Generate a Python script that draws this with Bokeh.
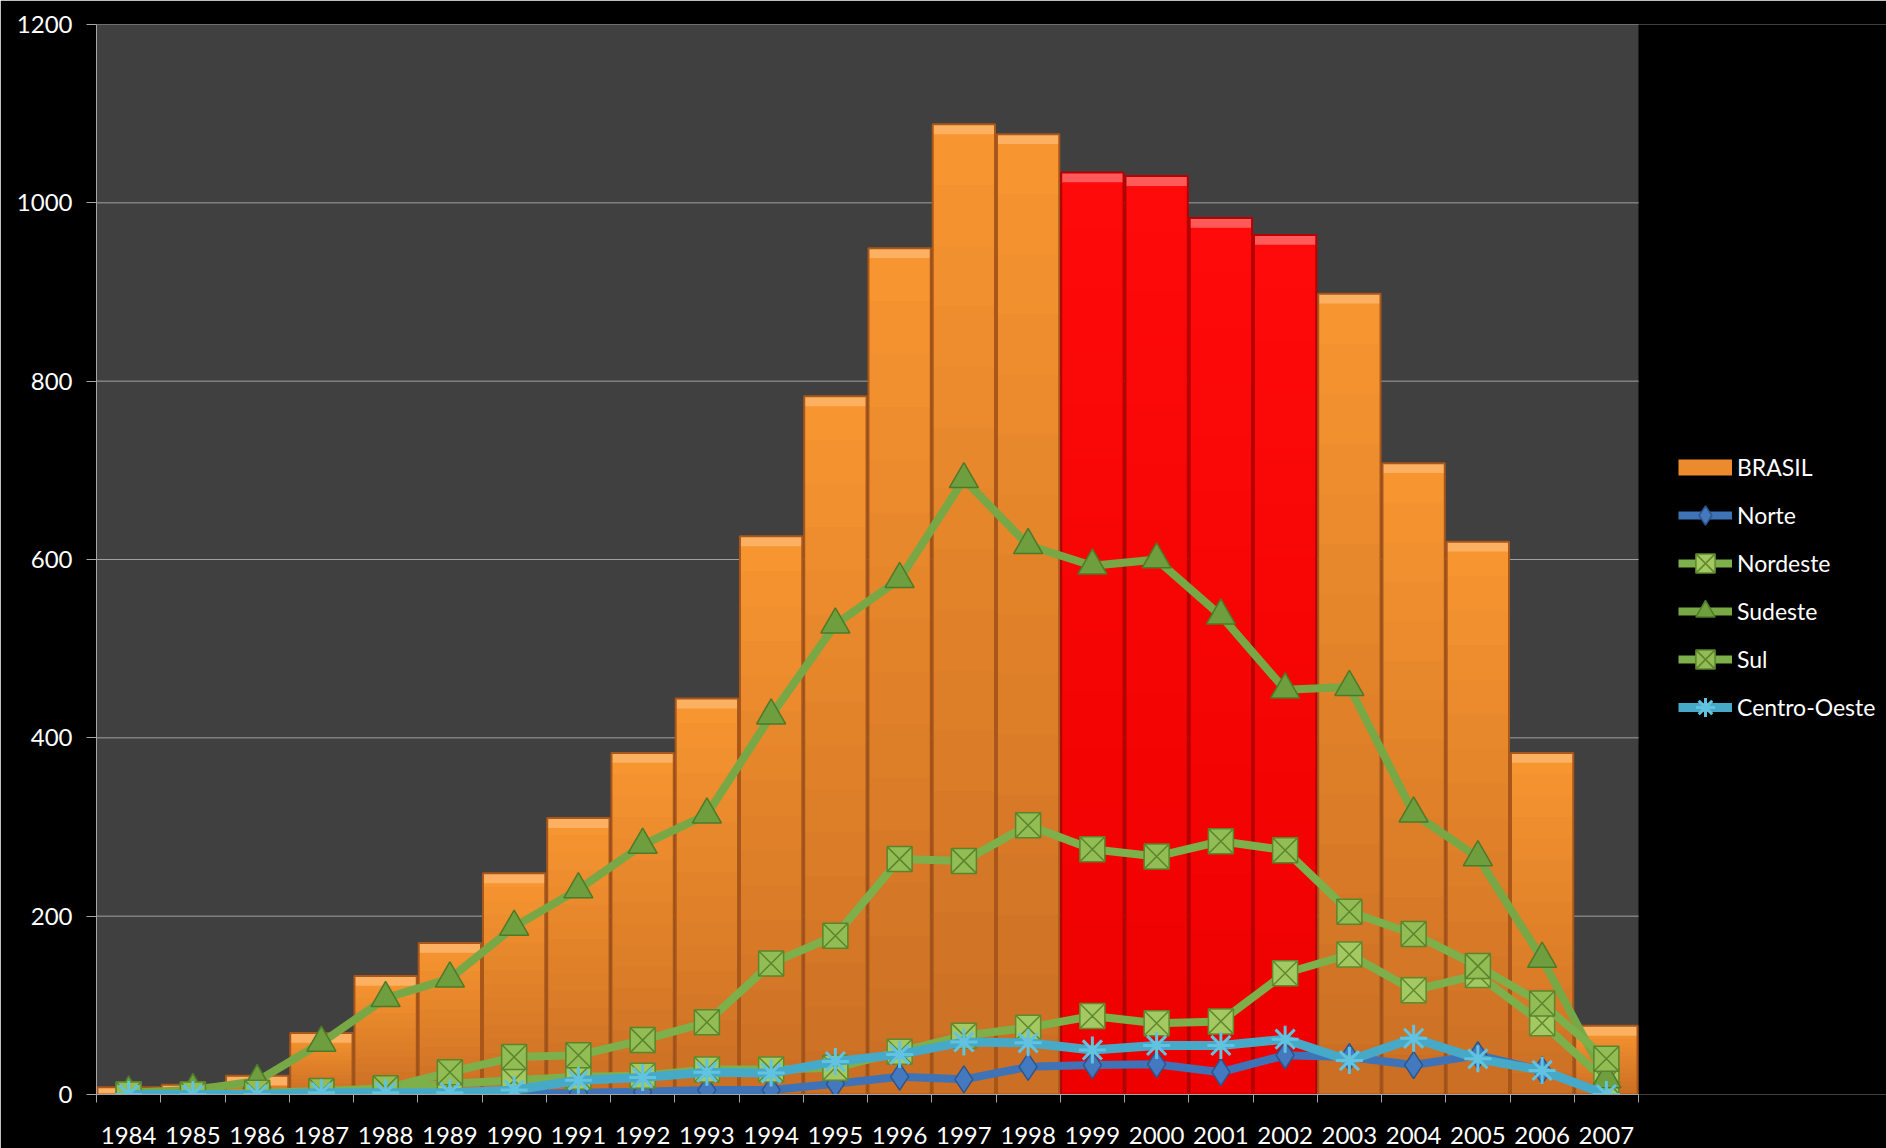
from bokeh.plotting import figure
from bokeh.models import (Range1d, FixedTicker, Legend, LegendItem,
                          ColumnDataSource, BoxAnnotation)
from bokeh.embed import file_html
from bokeh.resources import INLINE

# ---- data -------------------------------------------------------------
years = ["1984", "1985", "1986", "1987", "1988", "1989", "1990", "1991",
         "1992", "1993", "1994", "1995", "1996", "1997", "1998", "1999",
         "2000", "2001", "2002", "2003", "2004", "2005", "2006", "2007"]
highlight = ["1999", "2000", "2001", "2002"]

brasil = [8, 11, 21, 69, 133, 170, 248, 310, 383, 444, 626, 783,
          949, 1088, 1077, 1034, 1030, 983, 964, 898, 708, 620, 383, 77]
norte = [0, 0, 0, 0, 0, 0, 0, 2, 3, 5, 5, 12,
         20, 17, 31, 33, 34, 25, 44, 42, 33, 44, 27, 0]
nordeste = [0, 0, 0, 3, 6, 12, 16, 20, 21, 28, 28, 30,
            48, 66, 75, 88, 80, 82, 136, 157, 117, 134, 80, 15]
sudeste = [2, 5, 15, 58, 108, 130, 188, 230, 280, 314, 425, 527,
           578, 690, 616, 593, 600, 537, 454, 457, 315, 266, 152, 17]
sul = [0, 0, 2, 4, 7, 25, 42, 44, 61, 81, 147, 178,
       264, 262, 302, 275, 267, 284, 274, 205, 180, 144, 102, 40]
centro_oeste = [0, 0, 0, 2, 2, 2, 5, 16, 19, 25, 24, 37,
                45, 59, 58, 50, 55, 55, 62, 38, 63, 40, 27, 0]

y_ticks = [0, 200, 400, 600, 800, 1000, 1200]

# ---- styling / layout ---------------------------------------------------
FONT = "Lato"
ORANGE_LO, ORANGE_HI = (202, 110, 36), (248, 150, 48)
RED_LO, RED_HI = (238, 0, 0), (255, 10, 10)
BEVEL = 11          # depth of the lighter top edge, in data units
SLICES = 16         # steps of the vertical shading on each bar
PLOT_W = 1542       # width of the chart area, px
STRIP_W = 248       # width of the key strip to its right, px


def mix(c0, c1, t):
    return "#%02x%02x%02x" % tuple(round(a + (b - a) * t) for a, b in zip(c0, c1))


n = len(years)
idx = list(range(n))
x_lo, x_hi = -0.5, n - 0.5
x_end = x_lo + n * (PLOT_W + STRIP_W) / PLOT_W
y_lo, y_hi = y_ticks[0], y_ticks[-1]

p = figure(width=1886, height=1148,
           x_range=Range1d(x_lo, x_end), y_range=Range1d(y_lo, y_hi),
           output_backend="svg", toolbar_location=None,
           background_fill_color="black", border_fill_color="black",
           outline_line_color=None,
           min_border_left=96, min_border_right=0,
           min_border_top=24, min_border_bottom=54)

# dark chart area, with the key strip left black
p.add_layout(BoxAnnotation(left=x_lo, right=x_hi, bottom=y_lo, top=y_hi,
                           fill_color="#404040", fill_alpha=1,
                           line_color=None, level="underlay"))

# horizontal gridlines across the chart area only
p.segment(x0=x_lo, x1=x_hi, y0=y_ticks, y1=y_ticks,
          line_color="#a0a0a0", line_width=1)

# ---- BRASIL bars: shaded body, bevelled top, dark edges ---------------
# each shading step runs from its own base up to the bar top, painted
# darkest first, so the steps overlap and leave no seams
sx, sb, st, sc = [], [], [], []
for k in range(SLICES):
    for i, (yr, v) in enumerate(zip(years, brasil)):
        lo, hi = (RED_LO, RED_HI) if yr in highlight else (ORANGE_LO, ORANGE_HI)
        sx.append(i)
        sb.append(v * k / SLICES)
        st.append(v)
        sc.append(mix(lo, hi, (k + 0.5) / SLICES))
p.vbar(x="x", bottom="b", top="t", width=0.97, fill_color="c",
       line_color=None,
       source=ColumnDataSource(dict(x=sx, b=sb, t=st, c=sc)))

bevel_colors = ["#ff5a5a" if yr in highlight else "#fbb062" for yr in years]
p.vbar(x=idx, top=brasil, bottom=[max(0, v - BEVEL) for v in brasil],
       width=0.97, fill_color=bevel_colors, line_color=None)

edge_colors = ["#b80000" if yr in highlight else "#a8561a" for yr in years]
p.vbar(x=idx, top=brasil, width=0.97, fill_color=None,
       line_color=edge_colors, line_width=2)

# key swatch for the bars: a hidden renderer that only styles the legend
r_brasil_key = p.line(idx, brasil, line_color="#ee8a2e", line_width=16,
                      line_cap="butt", visible=False)

# ---- regional series ----------------------------------------------------
r_norte_l = p.line(idx, norte, line_color="#3e73b8", line_width=8,
                   line_join="round")
r_norte_m = p.scatter(idx, norte, marker="diamond", size=27,
                      fill_color="#4479c0", line_color="#2b558c", line_width=1.5)

r_ne_l = p.line(idx, nordeste, line_color="#7db04a", line_width=8,
                line_join="round")
r_ne_m = p.scatter(idx, nordeste, marker="square_x", size=25,
                   fill_color="#a4c862", line_color="#5f8a2f", line_width=1.5)

r_se_l = p.line(idx, sudeste, line_color="#77a845", line_width=8,
                line_join="round")
r_se_m = p.scatter(idx, sudeste, marker="triangle", size=29,
                   fill_color="#6f9e3e", line_color="#4d7a28", line_width=1.5)

r_sul_l = p.line(idx, sul, line_color="#7db04a", line_width=8,
                 line_join="round")
r_sul_m = p.scatter(idx, sul, marker="square_x", size=25,
                    fill_color="#92bd55", line_color="#5a852c", line_width=1.5)

r_co_l = p.line(idx, centro_oeste, line_color="#47a9c8", line_width=9,
                line_join="round")
r_co_m = p.scatter(idx, centro_oeste, marker="asterisk", size=27,
                   line_color="#62c3e0", line_width=3)

# ---- axes ---------------------------------------------------------------
p.xaxis.bounds = (x_lo, x_hi)
p.xaxis.ticker = FixedTicker(ticks=idx,
                             minor_ticks=[i - 0.5 for i in range(n + 1)])
p.xaxis.major_label_overrides = {i: yr for i, yr in enumerate(years)}
p.xaxis.major_tick_out = 0
p.xaxis.major_tick_in = 0
p.xaxis.minor_tick_out = 8
p.xaxis.minor_tick_in = 0
p.xaxis.minor_tick_line_color = "#a6a6a6"
p.xaxis.axis_line_color = "#a6a6a6"
p.xaxis.major_label_standoff = 24
p.xaxis.major_label_text_font_size = "24px"

p.yaxis.ticker = FixedTicker(ticks=y_ticks)
p.yaxis.major_tick_out = 10
p.yaxis.major_tick_in = 0
p.yaxis.minor_tick_line_color = None
p.yaxis.major_tick_line_color = "#a6a6a6"
p.yaxis.axis_line_color = "#a6a6a6"
p.yaxis.major_label_standoff = 14
p.yaxis.major_label_text_font_size = "24px"

for ax in (p.xaxis, p.yaxis):
    ax.major_label_text_color = "white"
    ax.major_label_text_font = FONT

p.grid.grid_line_color = None

# ---- legend -------------------------------------------------------------
legend = Legend(items=[
    LegendItem(label="BRASIL", renderers=[r_brasil_key]),
    LegendItem(label="Norte", renderers=[r_norte_l, r_norte_m]),
    LegendItem(label="Nordeste", renderers=[r_ne_l, r_ne_m]),
    LegendItem(label="Sudeste", renderers=[r_se_l, r_se_m]),
    LegendItem(label="Sul", renderers=[r_sul_l, r_sul_m]),
    LegendItem(label="Centro-Oeste", renderers=[r_co_l, r_co_m]),
], location=(PLOT_W + 40, 363), glyph_width=54, glyph_height=48,
    label_height=48, label_standoff=5, label_text_color="white",
    label_text_font=FONT, label_text_font_size="23px",
    background_fill_alpha=0, border_line_color=None, padding=0, margin=0,
    spacing=0, inactive_fill_alpha=0)

p.add_layout(legend)

open("out.html", "w").write(file_html(p, INLINE))
